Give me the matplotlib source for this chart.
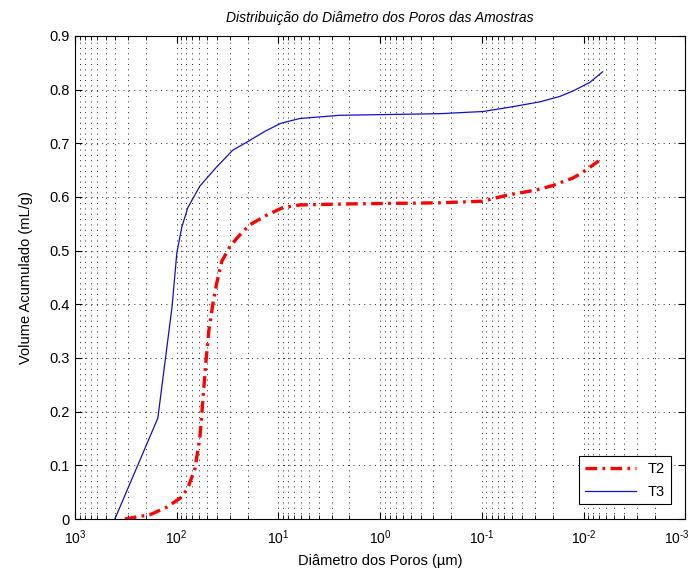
import matplotlib
matplotlib.use('Agg')
import matplotlib.pyplot as plt
import matplotlib.transforms as mtransforms
import numpy as np
from matplotlib.ticker import LogLocator, FuncFormatter, NullFormatter

plt.rcParams['font.family'] = ['Liberation Sans', 'DejaVu Sans']
plt.rcParams['mathtext.fontset'] = 'custom'
plt.rcParams['mathtext.rm'] = 'Liberation Sans'

# diametro dos poros (um) e volume acumulado (mL/g)
d_t2 = [323, 246, 183, 125, 88.9, 77.6, 66.2, 59.2, 55.3, 51.7, 48.3, 44.1, 40.3,
        36.0, 30.0, 25.1, 19.1, 13.0, 9.06, 6.17, 1.99, 0.26, 0.098, 0.057, 0.029,
        0.0202, 0.0161, 0.0128, 0.0105, 0.0071]
v_t2 = [0.0, 0.004, 0.008, 0.022, 0.041, 0.058, 0.093, 0.15, 0.22, 0.29, 0.35, 0.40, 0.44,
        0.48, 0.507, 0.525, 0.548, 0.566, 0.58, 0.585, 0.587, 0.589, 0.592, 0.603, 0.613,
        0.621, 0.628, 0.635, 0.644, 0.667]

d_t3 = [405, 153, 111, 99.5, 88.9, 77.6, 59.2, 40.3, 28.1, 20.0, 13.6, 9.5, 6.17,
        2.49, 0.26, 0.098, 0.0498, 0.027, 0.0172, 0.0128, 0.00873, 0.0065]
v_t3 = [0.0, 0.188, 0.395, 0.496, 0.544, 0.58, 0.62, 0.656, 0.687, 0.703, 0.722, 0.737, 0.746,
        0.752, 0.755, 0.759, 0.768, 0.777, 0.787, 0.797, 0.813, 0.833]


def pow_label(v, pos):
    e = int(round(np.log10(v)))
    return r'$10^{%s}$' % str(e).replace('-', '\u2010')


fig = plt.figure(figsize=(7, 5.78), dpi=100)
ax = fig.add_axes([0.107, 0.102, 0.872, 0.836])

ax.plot(d_t2, v_t2, color='red', lw=2.4, linestyle=(0, (3.5, 1.6, 0.8, 1.6)), label='T2')
ax.plot(d_t3, v_t3, color='#1010c8', lw=0.9, label='T3')

ax.set_xscale('log')
ax.set_xlim(1e3, 1e-3)
ax.set_ylim(0, 0.9)
ax.set_yticks(np.arange(0, 0.91, 0.1))
ax.yaxis.set_major_formatter(FuncFormatter(lambda v, p: '0' if abs(v) < 1e-9 else '%.1f' % v))
ax.xaxis.set_major_locator(LogLocator(base=10, numticks=10))
ax.xaxis.set_major_formatter(FuncFormatter(pow_label))
ax.xaxis.set_minor_locator(LogLocator(base=10, subs=np.arange(2, 10), numticks=20))
ax.xaxis.set_minor_formatter(NullFormatter())

grid_style = dict(color='#222222', linestyle=(0, (1, 4.5)), linewidth=0.7)
ax.grid(True, which='major', axis='both', **grid_style)
ax.grid(True, which='minor', axis='x', **grid_style)

ax.tick_params(which='both', direction='in', top=True, right=True, labelsize=10.5, colors='black')
ax.tick_params(which='major', length=5, width=0.8)
ax.tick_params(which='minor', length=3, width=0.6)
ax.tick_params(axis='x', which='major', pad=7, labelsize=10)
for s in ax.spines.values():
    s.set_linewidth(0.8)

ax.set_title('Distribuição do Diâmetro dos Poros das Amostras', fontsize=10, style='italic', pad=10)
ax.set_xlabel('Diâmetro dos Poros (µm)', fontsize=10.5, labelpad=5)
ax.set_ylabel('Volume Acumulado (mL/g)', fontsize=10.5, labelpad=12)

leg = ax.legend(loc='lower right', fancybox=False, edgecolor='black', framealpha=1,
                fontsize=10.5, handlelength=3.5, borderaxespad=1.0, labelspacing=0.6)
leg.get_frame().set_linewidth(0.8)

# pull the last x label (10^-3) a little inside the figure
fig.canvas.draw()
last = [t for t in ax.xaxis.get_major_ticks() if np.isclose(t.get_loc(), 1e-3)]
for t in last:
    t.label1.set_transform(t.label1.get_transform() +
                           mtransforms.ScaledTranslation(-6 / 72, 0, fig.dpi_scale_trans))

fig.savefig('out.png', dpi=100)
